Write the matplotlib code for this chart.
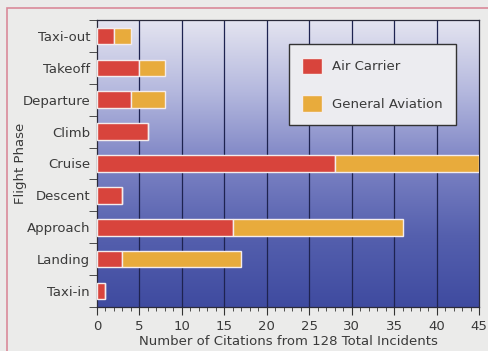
import matplotlib.pyplot as plt
import numpy as np
from matplotlib.colors import LinearSegmentedColormap
from matplotlib.patches import Rectangle

phases = ['Taxi-out', 'Takeoff', 'Departure', 'Climb', 'Cruise',
          'Descent', 'Approach', 'Landing', 'Taxi-in']
air_carrier = [2, 5, 4, 6, 28, 3, 16, 3, 1]
general_aviation = [2, 3, 4, 0, 17, 0, 20, 14, 0]

red = '#d8443c'
orange = '#e8ab3c'

fig = plt.figure(figsize=(4.89, 3.51), dpi=100, facecolor='#ebebea')
ax = fig.add_axes([97 / 489, 1 - 307 / 351, 382 / 489, 287 / 351])

# border line round the figure (top and left visible)
fig.patches.append(Rectangle((7 / 489, -0.1), 1.2, 1 - 8 / 351 + 0.1,
                             transform=fig.transFigure, fill=False,
                             edgecolor='#d98a9a', linewidth=1.2))

# gradient background
cmap = LinearSegmentedColormap.from_list(
    'bg', ['#e4e4f0', '#b4b8de', '#7c83c4', '#5560ae', '#3f4ba0'])
grad = np.linspace(0, 1, 256).reshape(-1, 1)
ax.imshow(grad, aspect='auto', cmap=cmap, extent=[0, 45, 8.5, -0.5],
          zorder=0)

y = np.arange(len(phases))
ax.barh(y, air_carrier, height=0.52, color=red, edgecolor='#f4ecec',
        linewidth=1, label='Air Carrier', zorder=3)
ax.barh(y, general_aviation, left=air_carrier, height=0.52, color=orange,
        edgecolor='#f4ecec', linewidth=1, label='General Aviation', zorder=3)

ax.set_xlim(0, 45)
ax.set_ylim(8.5, -0.5)
ax.set_xticks(range(0, 46, 5))
ax.set_xticks(range(0, 46, 1), minor=True)
ax.set_yticks(y)
ax.set_yticklabels(phases)
ax.set_yticks(np.arange(-0.5, 9, 1), minor=True)
ax.tick_params(axis='y', which='major', length=0, pad=5)
ax.tick_params(axis='y', which='minor', length=6, color='#333333')
ax.tick_params(axis='x', which='major', length=6, color='#333333')
ax.tick_params(axis='x', which='minor', length=3, color='#333333')
ax.tick_params(labelsize=9.5, labelcolor='#3a3a3a')

for v in range(5, 45, 5):
    ax.axvline(v, color='#1e2350', linewidth=0.9, zorder=2)

for s in ax.spines.values():
    s.set_color('#2a2a3a')
    s.set_linewidth(0.9)

ax.set_xlabel('Number of Citations from 128 Total Incidents', fontsize=9.5,
              color='#3a3a3a', labelpad=1)
ax.set_ylabel('Flight Phase', fontsize=9.5, color='#3a3a3a')
ax.yaxis.set_label_coords(-70 / 382, 0.5)

leg = ax.legend(loc='upper right', bbox_to_anchor=(0.94, 0.915), fontsize=9.5,
                frameon=True, fancybox=False, edgecolor='#333333',
                facecolor='#ececf0', framealpha=1, handlelength=1.5,
                handleheight=1.5, labelspacing=1.65, borderpad=1.0,
                handletextpad=0.8, borderaxespad=0)
for t in leg.get_texts():
    t.set_color('#3a3a3a')
leg.set_zorder(5)

fig.savefig('out.png', dpi=100, facecolor=fig.get_facecolor())
